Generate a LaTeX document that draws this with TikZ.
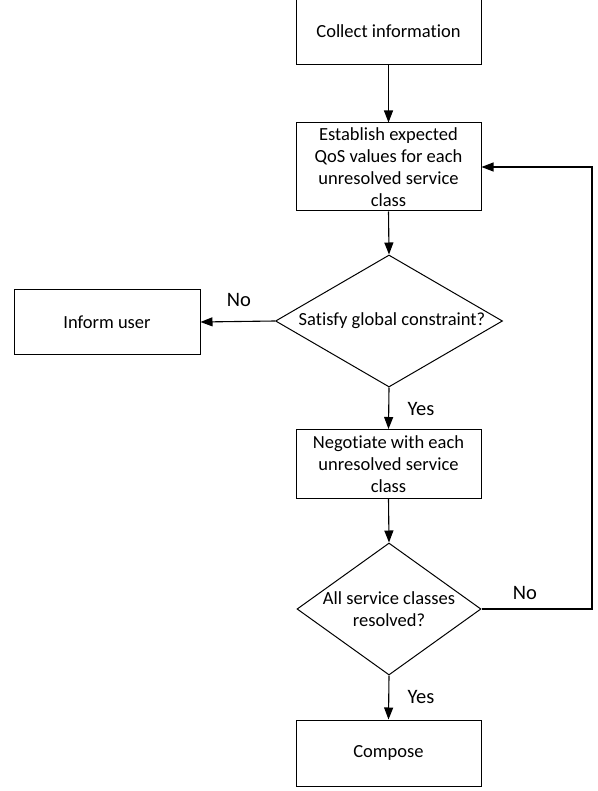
\documentclass[tikz,border=0pt]{standalone}
\usepackage{fontspec}
\setmainfont[Ligatures=NoCommon]{Carlito}
\usetikzlibrary{shapes.geometric,arrows.meta}
\begin{document}
\begin{tikzpicture}[x=1pt,y=-1pt,
  box/.style={draw=black,line width=1pt,rectangle,inner sep=0pt,align=center,
    font=\fontsize{18.5}{22}\selectfont},
  dia/.style={draw=black,line width=1pt,diamond,inner sep=0pt},
  lbl/.style={font=\fontsize{18.5}{22}\selectfont,align=center},
  yn/.style={font=\fontsize{20.5}{22}\selectfont},
  conn/.style={draw=black,line width=1.1pt,-{Triangle[length=12pt,width=9pt]}}]
\useasboundingbox (0,0) rectangle (597,791);
\node[box,minimum width=185pt,minimum height=67pt] (collect) at (388.5,31.5) {Collect information};
\node[box,minimum width=185pt,minimum height=88pt] (establish) at (388.5,167) {Establish expected\\QoS values for each\\unresolved service\\class};
\node[dia,minimum width=227pt,minimum height=132pt] (sat) at (389,321) {};
\node[lbl] (satt) at (392,321) {Satisfy global constraint?};
\node[box,minimum width=186pt,minimum height=65pt] (inform) at (107,322) {Inform user};
\node[box,minimum width=185pt,minimum height=69pt] (nego) at (388.5,464) {Negotiate with each\\unresolved service\\class};
\node[dia,minimum width=184pt,minimum height=132pt] (all) at (389,609) {};
\node[lbl] (allt) at (all.center) {All service classes\\resolved?};
\node[box,minimum width=185pt,minimum height=66pt] (compose) at (388.5,753) {Compose};
\coordinate (cr) at (592,609);
\coordinate (ctop) at (592,167);
\draw[conn] (collect.south) -- (establish.north);
\draw[conn] (establish.south) -- (sat.north);
\draw[conn] (sat.west) -- (inform.east);
\draw[conn] (sat.south) -- (nego.north);
\draw[conn] (nego.south) -- (all.north);
\draw[conn] (all.south) -- (compose.north);
\draw[conn] (all.east) -- (cr) -- (ctop) -- (establish.east);
\node[yn] (no1) at (239,300) {No};
\node[yn] (yes1) at (421,409) {Yes};
\node[yn] (yes2) at (421,697) {Yes};
\node[yn] (no2) at (525,593) {No};
\end{tikzpicture}
\end{document}
